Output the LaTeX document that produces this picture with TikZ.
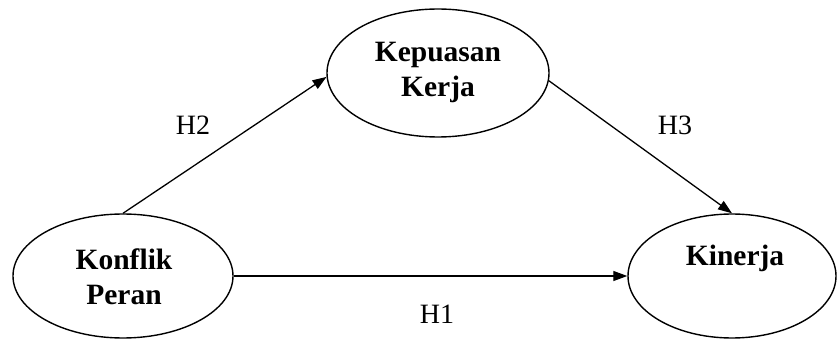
\documentclass[tikz,border=0pt]{standalone}
\usepackage{fontspec}
\setmainfont{Liberation Serif}
\usetikzlibrary{shapes.geometric,arrows.meta}
\tikzset{
  var/.style={draw, ellipse, line width=1.4pt, inner sep=0pt},
  vtext/.style={font=\fontsize{29.5}{35}\selectfont\bfseries, align=center},
  hlab/.style={font=\fontsize{28}{30}\selectfont},
  arr/.style={line width=1.3pt, -{Triangle[length=14pt,width=10pt]}}
}
\begin{document}
\begin{tikzpicture}[x=1pt,y=-1pt]
\useasboundingbox (0,0) rectangle (838,339);
\node[var, minimum width=222pt, minimum height=128pt] (kep) at (438,73) {};
\node[var, minimum width=220pt, minimum height=124pt] (kon) at (123,276) {};
\node[var, minimum width=208pt, minimum height=124pt] (kin) at (732,276) {};
\node[vtext] (tkep) at (438,72) {Kepuasan\\Kerja};
\node[vtext] (tkon) at (124,277) {Konflik\\Peran};
\node[vtext] (tkin) at (735,258) {Kinerja};
\draw[arr] (kon.north) -- (kep.182);
\draw[arr] (kep.-4) -- (kin.north);
\draw[arr] (kon.east) -- (kin.west);
\node[hlab] (h2) at (193,125) {H2};
\node[hlab] (h3) at (675,125) {H3};
\node[hlab] (h1) at (437,314) {H1};
\end{tikzpicture}
\end{document}
